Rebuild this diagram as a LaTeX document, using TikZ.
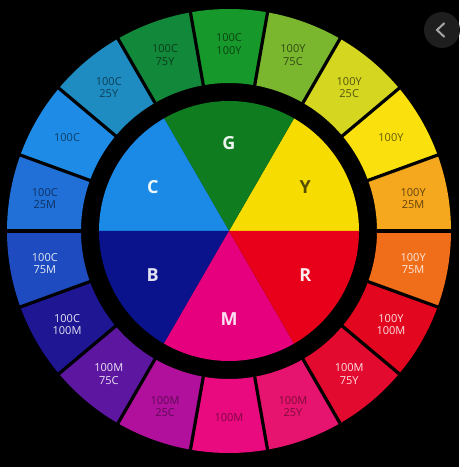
\documentclass[tikz,border=0pt]{standalone}
\usepackage{fontspec}
\setmainfont{Open Sans}
\definecolor{yM25}{RGB}{245,168,30}
\definecolor{yFull}{RGB}{250,224,12}
\definecolor{yC25}{RGB}{212,214,32}
\definecolor{yC75}{RGB}{122,182,46}
\definecolor{cY100}{RGB}{22,152,42}
\definecolor{cY75}{RGB}{18,136,58}
\definecolor{cY25}{RGB}{30,140,192}
\definecolor{cFull}{RGB}{30,140,230}
\definecolor{cM25}{RGB}{32,112,216}
\definecolor{cM75}{RGB}{30,76,192}
\definecolor{cM100}{RGB}{30,22,146}
\definecolor{mC75}{RGB}{92,22,160}
\definecolor{mC25}{RGB}{176,16,156}
\definecolor{mFull}{RGB}{232,10,126}
\definecolor{mY25}{RGB}{230,20,110}
\definecolor{mY75}{RGB}{226,10,46}
\definecolor{yM100}{RGB}{226,6,30}
\definecolor{yM75}{RGB}{240,110,26}
\definecolor{Ysec}{RGB}{246,220,0}
\definecolor{Gsec}{RGB}{16,124,32}
\definecolor{Csec}{RGB}{26,138,230}
\definecolor{Bsec}{RGB}{10,18,140}
\definecolor{Msec}{RGB}{230,0,126}
\definecolor{Rsec}{RGB}{232,0,26}
\definecolor{btn}{RGB}{30,30,30}
\tikzset{
  ringlabel/.style={font=\fontsize{11}{12.5}\selectfont, align=center, inner sep=0pt},
  seclabel/.style={font=\fontsize{18}{18}\selectfont\bfseries, inner sep=0pt},
  divider/.style={black, line width=3.2pt},
  backbtn/.style={circle, fill=btn, minimum size=36pt, inner sep=0pt}
}
\begin{document}
\begin{tikzpicture}[x=1pt, y=1pt]
  \fill[black] (0,0) rectangle (459,467);
  \useasboundingbox (0,0) rectangle (459,467);
  \begin{scope}[shift={(229,236)}]
    \foreach \a/\col/\txt/\lbl [count=\i] in {
        0/yM25/yM25!40!black/{100Y\\25M}, 20/yFull/yFull!40!black/{100Y},
        40/yC25/yC25!40!black/{100Y\\25C}, 60/yC75/yC75!40!black/{100Y\\75C},
        80/cY100/cY100!45!black/{100C\\100Y}, 100/cY75/cY75!45!black/{100C\\75Y},
        120/cY25/cY25!45!black/{100C\\25Y}, 140/cFull/cFull!45!black/{100C},
        160/cM25/cM25!45!black/{100C\\25M}, 180/cM75/white!88!cM75/{100C\\75M},
        200/cM100/white!88!cM100/{100C\\100M}, 220/mC75/white!88!mC75/{100M\\75C},
        240/mC25/mC25!55!black/{100M\\25C}, 260/mFull/mFull!55!black/{100M},
        280/mY25/mY25!55!black/{100M\\25Y}, 300/mY75/white!88!mY75/{100M\\75Y},
        320/yM100/white!88!yM100/{100Y\\100M}, 340/yM75/white!85!yM75/{100Y\\75M}} {
      \fill[\col] (\a:148) arc[start angle=\a, delta angle=20, radius=148]
        -- ({\a+20}:222) arc[start angle={\a+20}, delta angle=-20, radius=222] -- cycle;
      \node[ringlabel, text=\txt] (seg\i) at ({\a+10}:187) {\lbl};
    }
    \foreach \a in {0,20,...,340}
      \draw[divider] (\a:144) -- (\a:226);
    \foreach \a/\col/\txt/\lbl in {0/Ysec/Ysec!35!black/Y, 60/Gsec/white!92!Gsec/G,
        120/Csec/white!92!Csec/C, 180/Bsec/white!88!Bsec/B,
        240/Msec/white!88!Msec/M, 300/Rsec/white!92!Rsec/R} {
      \fill[\col] (0,0) -- (\a:130) arc[start angle=\a, delta angle=60, radius=130] -- cycle;
      \node[seclabel, text=\txt] (\lbl) at ({\a+30}:88) {\lbl};
    }
  \end{scope}
  \node[backbtn] (back) at (442,437) {};
  \draw[gray!70, line width=2pt] ([xshift=2.5pt, yshift=7pt]back.center)
    -- ([xshift=-5pt]back.center) -- ([xshift=2.5pt, yshift=-7pt]back.center);
\end{tikzpicture}
\end{document}
